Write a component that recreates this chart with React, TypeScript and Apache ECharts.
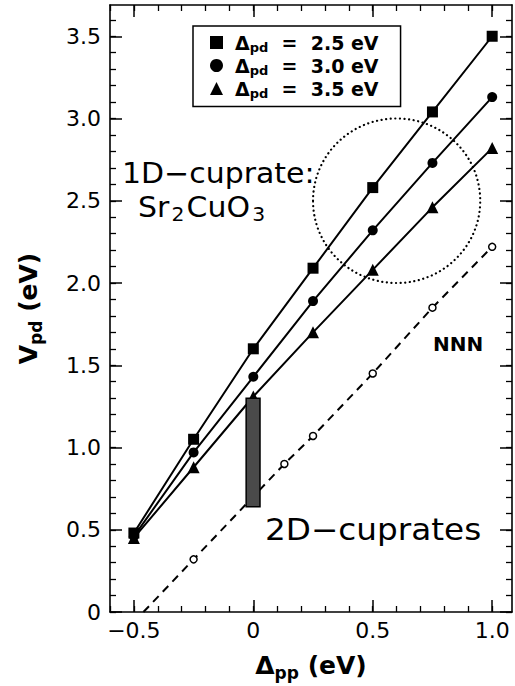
import React, { useEffect, useRef } from 'react';
import * as echarts from 'echarts';

// ---- data ----
const DELTA_PP = [-0.5, -0.25, 0, 0.25, 0.5, 0.75, 1.0];
const VPD_25 = [0.48, 1.05, 1.6, 2.09, 2.58, 3.04, 3.5];
const VPD_30 = [0.46, 0.97, 1.43, 1.89, 2.32, 2.73, 3.13];
const VPD_35 = [0.45, 0.88, 1.31, 1.7, 2.08, 2.46, 2.82];
const NNN_X = [-0.46, -0.25, 0.13, 0.25, 0.5, 0.75, 1.0];
const NNN_Y = [0, 0.32, 0.9, 1.07, 1.45, 1.85, 2.22];
const SERIES_NAMES = ['Δpd = 2.5 eV', 'Δpd = 3.0 eV', 'Δpd = 3.5 eV'];
const SERIES_SYMBOLS = ['rect', 'circle', 'triangle'];
const X_MAJOR = [-0.5, 0, 0.5, 1.0];
const X_MINOR = [-0.6, -0.5, -0.4, -0.3, -0.2, -0.1, 0, 0.1, 0.2, 0.3, 0.4, 0.5, 0.6, 0.7, 0.8, 0.9, 1.0];
const Y_MAJOR = [0, 0.5, 1.0, 1.5, 2.0, 2.5, 3.0, 3.5];
const Y_MINOR = [0, 0.1, 0.2, 0.3, 0.4, 0.5, 0.6, 0.7, 0.8, 0.9, 1.0, 1.1, 1.2, 1.3, 1.4, 1.5, 1.6, 1.7, 1.8, 1.9, 2.0, 2.1, 2.2, 2.3, 2.4, 2.5, 2.6, 2.7, 2.8, 2.9, 3.0, 3.1, 3.2, 3.3, 3.4, 3.5, 3.6];
const X_RANGE = [-0.6, 1.083];
const Y_RANGE = [0, 3.69];
// shaded 2D-cuprates band: x0, x1, y0, y1
const BAND_2D = [-0.03, 0.028, 0.64, 1.3];
// dotted 1D-cuprate region: cx, cy, rx, ry (data units)
const REGION_1D = [0.6, 2.5, 0.35, 0.5];

const FONT = '"DejaVu Sans", sans-serif';

const fmt = (v: number) => (v === 0 ? '0' : (v < 0 ? '−' : '') + Math.abs(v).toFixed(1));

export default function App() {
  const ref = useRef<HTMLDivElement>(null);
  useEffect(() => {
    if (!ref.current) return;
    const chart = echarts.init(ref.current, undefined, { renderer: 'svg' });

    const lineBlack = { color: '#000', width: 1.6 };
    const xAxisBase = {
      type: 'value' as const,
      min: X_RANGE[0],
      max: X_RANGE[1],
      splitLine: { show: false },
      gridIndex: 0,
    };
    const yAxisBase = {
      type: 'value' as const,
      min: Y_RANGE[0],
      max: Y_RANGE[1],
      splitLine: { show: false },
      gridIndex: 0,
    };
    const axLine = (show: boolean) => ({ show, onZero: false, lineStyle: lineBlack });
    const majorTick = (vals: number[]) => ({ show: true, inside: true, length: 12, customValues: vals, lineStyle: { color: '#000', width: 1.5 } });
    const minorTick = (vals: number[]) => ({ show: true, inside: true, length: 6, customValues: vals, lineStyle: { color: '#000', width: 1.3 } });

    const mainSeries = [VPD_25, VPD_30, VPD_35].map((ys, i) => ({
      name: SERIES_NAMES[i],
      type: 'line',
      data: DELTA_PP.map((x, j) => [x, ys[j]]),
      symbol: SERIES_SYMBOLS[i],
      symbolSize: i === 2 ? 12 : i === 0 ? 11 : 10,
      lineStyle: { color: '#000', width: 2 },
      itemStyle: { color: '#000' },
      z: 3,
    }));

    const option: any = {
      animation: false,
      backgroundColor: '#fff',
      grid: { left: 110, top: 5, right: 3, bottom: 61, containLabel: false },
      xAxis: [
        {
          ...xAxisBase,
          position: 'bottom',
          axisLine: axLine(true),
          axisTick: majorTick(X_MAJOR),
          axisLabel: { show: true, customValues: X_MAJOR, formatter: fmt, color: '#000', fontSize: 22, fontFamily: FONT, margin: 7 },
          name: '{d|Δ}{s|pp}{d| (eV)}',
          nameLocation: 'middle',
          nameGap: 38,
          nameTextStyle: {
            rich: {
              d: { fontSize: 25, fontWeight: 'bold', fontFamily: FONT, color: '#000' },
              s: { fontSize: 17, fontWeight: 'bold', fontFamily: FONT, color: '#000', verticalAlign: 'bottom', padding: [14, 0, 0, 0] },
            },
          },
        },
        { ...xAxisBase, position: 'bottom', axisLine: axLine(false), axisTick: minorTick(X_MINOR), axisLabel: { show: false } },
        { ...xAxisBase, position: 'top', axisLine: axLine(true), axisTick: majorTick(X_MAJOR), axisLabel: { show: false } },
        { ...xAxisBase, position: 'top', axisLine: axLine(false), axisTick: minorTick(X_MINOR), axisLabel: { show: false } },
      ],
      yAxis: [
        {
          ...yAxisBase,
          position: 'left',
          axisLine: axLine(true),
          axisTick: majorTick(Y_MAJOR),
          axisLabel: { show: true, customValues: Y_MAJOR, formatter: fmt, color: '#000', fontSize: 22, fontFamily: FONT, margin: 9 },
          name: '{v|V}{s|pd}{v| (eV)}',
          nameLocation: 'middle',
          nameGap: 66,
          nameRotate: 90,
          nameTextStyle: {
            rich: {
              v: { fontSize: 25, fontWeight: 'bold', fontFamily: FONT, color: '#000' },
              s: { fontSize: 17, fontWeight: 'bold', fontFamily: FONT, color: '#000', verticalAlign: 'bottom', padding: [14, 0, 0, 0] },
            },
          },
        },
        { ...yAxisBase, position: 'left', axisLine: axLine(false), axisTick: minorTick(Y_MINOR), axisLabel: { show: false } },
        { ...yAxisBase, position: 'right', axisLine: axLine(true), axisTick: majorTick(Y_MAJOR), axisLabel: { show: false } },
        { ...yAxisBase, position: 'right', axisLine: axLine(false), axisTick: minorTick(Y_MINOR), axisLabel: { show: false } },
      ],
      legend: {
        orient: 'vertical',
        left: 193,
        top: 26,
        padding: [7, 22, 7, 17],
        itemWidth: 13,
        itemHeight: 13,
        itemGap: 2.5,
        borderColor: '#000',
        borderWidth: 1.5,
        backgroundColor: '#fff',
        data: SERIES_NAMES.map((n, i) => ({ name: n, icon: SERIES_SYMBOLS[i] })),
        formatter: (name: string) => `{d|Δ}{s|pd}{t|  =  ${name.slice(6)}}`,
        textStyle: {
          rich: {
            d: { fontSize: 19, fontWeight: 'bold', fontFamily: FONT, color: '#000', padding: [0, 0, 0, 7] },
            s: { fontSize: 13, fontWeight: 'bold', fontFamily: FONT, color: '#000', verticalAlign: 'bottom', padding: [9, 0, 0, 0] },
            t: { fontSize: 19, fontWeight: 'bold', fontFamily: FONT, color: '#000' },
          },
        },
      },
      graphic: [
        { type: 'text', x: 122, y: 173, scaleX: 1.07, style: { text: '1D−cuprate:', fontSize: 28, fontFamily: FONT, fill: '#000', verticalAlign: 'middle' } },
        {
          type: 'text', x: 138, y: 207, scaleX: 1.07,
          style: {
            text: '{n|Sr}{s|2}{n|CuO}{s|3}', verticalAlign: 'middle',
            rich: {
              n: { fontSize: 28, fontFamily: FONT, fill: '#000' },
              s: { fontSize: 19, fontFamily: FONT, fill: '#000', verticalAlign: 'bottom', padding: [16, 2, 0, 2] },
            },
          },
        },
        { type: 'text', x: 265, y: 529, scaleX: 1.09, style: { text: '2D−cuprates', fontSize: 30, fontFamily: FONT, fill: '#000', verticalAlign: 'middle' } },
        { type: 'text', x: 433, y: 344, style: { text: 'NNN', fontSize: 20, fontWeight: 'bold', fontFamily: FONT, fill: '#000', verticalAlign: 'middle' } },
      ],
      series: [
        ...mainSeries,
        {
          name: 'NNN',
          type: 'line',
          data: NNN_X.map((x, j) => (j === 0 ? { value: [x, NNN_Y[j]], symbol: 'none' } : [x, NNN_Y[j]])),
          symbol: 'circle',
          symbolSize: 7,
          lineStyle: { color: '#000', width: 2, type: [8, 6] },
          itemStyle: { color: '#fff', borderColor: '#000', borderWidth: 1.5 },
          z: 3,
        },
        {
          type: 'custom',
          name: 'band2D',
          silent: true,
          z: 5,
          data: [BAND_2D],
          renderItem: (_p: any, api: any) => {
            const a = api.coord([api.value(0), api.value(3)]);
            const b = api.coord([api.value(1), api.value(2)]);
            return {
              type: 'rect',
              shape: { x: a[0], y: a[1], width: b[0] - a[0], height: b[1] - a[1] },
              style: { fill: '#4a4a4a', stroke: '#000', lineWidth: 1.5 },
            };
          },
        },
        {
          type: 'custom',
          name: 'region1D',
          silent: true,
          z: 2,
          data: [REGION_1D],
          renderItem: (_p: any, api: any) => {
            const c = api.coord([api.value(0), api.value(1)]);
            const e = api.coord([api.value(0) + api.value(2), api.value(1) + api.value(3)]);
            return {
              type: 'ellipse',
              shape: { cx: c[0], cy: c[1], rx: e[0] - c[0], ry: c[1] - e[1] },
              style: { fill: 'none', stroke: '#000', lineWidth: 2.2, lineDash: [0.1, 4.5], lineCap: 'round' },
            };
          },
        },
      ],
    };
    chart.setOption(option);
    return () => chart.dispose();
  }, []);
  return <div ref={ref} style={{ position: 'fixed', left: 0, top: 0, width: 515, height: 686 }} />;
}
